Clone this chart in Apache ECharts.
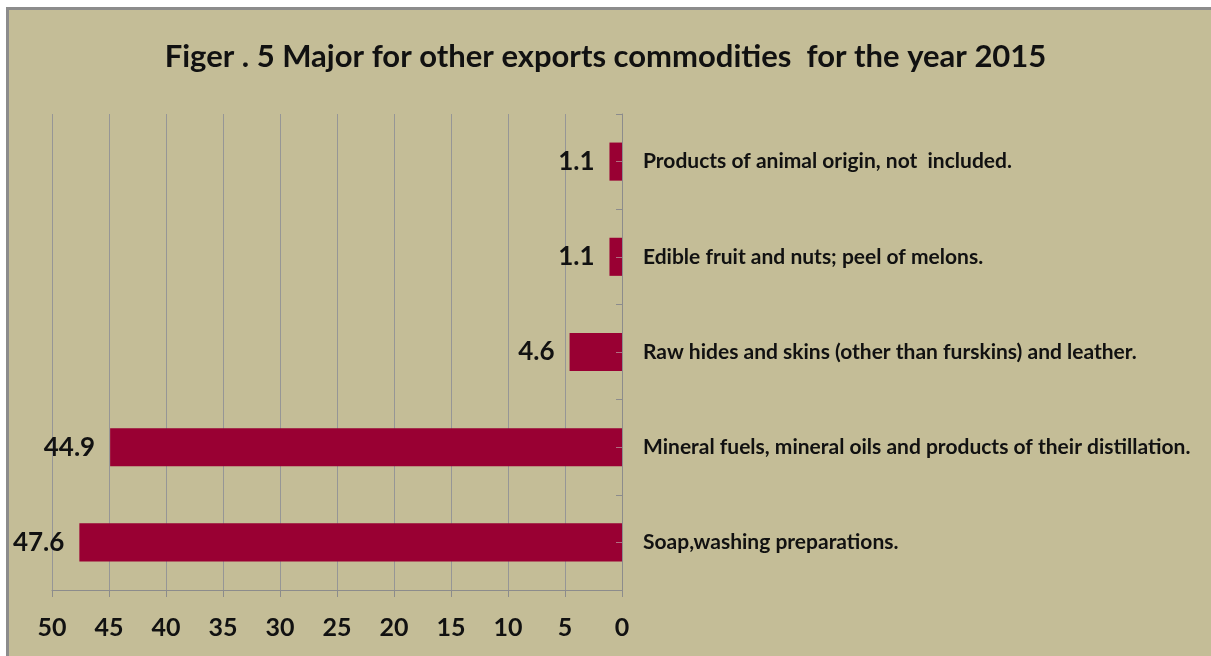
<!DOCTYPE html>
<html>
<head>
<meta charset="utf-8">
<script src="https://cdn.jsdelivr.net/npm/echarts@6/dist/echarts.min.js"></script>
<style>
html,body{margin:0;padding:0;background:#fff;}
#chart{width:1211px;height:656px;}
</style>
</head>
<body>
<div id="chart"></div>
<script>
const titleText = "Figer . 5 Major for other exports commodities  for the year 2015";
// bottom to top
const categories = [
  "Soap,washing preparations.",
  "Mineral fuels, mineral oils and products of their distillation.",
  "Raw hides and skins (other than furskins) and leather.",
  "Edible fruit and nuts; peel of melons.",
  "Products of animal origin, not  included."
];
const values = [47.6, 44.9, 4.6, 1.1, 1.1];
const xTicks = { min: 0, max: 50, interval: 5 };

const chart = echarts.init(document.getElementById('chart'));
const font = 'Lato';
chart.setOption({
  backgroundColor: '#ffffff',
  animation: false,
  graphic: [{
    type: 'rect',
    z: -10,
    shape: { x: 7.5, y: 8.5, width: 1220, height: 660 },
    style: { fill: '#C4BD97', stroke: '#8c8c8c', lineWidth: 3 }
  }],
  title: {
    text: titleText,
    left: 'center',
    top: 36,
    textStyle: { fontFamily: font, fontWeight: 'bold', fontSize: 31, color: '#111' }
  },
  grid: { left: 52, right: 589, top: 114, bottom: 66 },
  xAxis: {
    type: 'value',
    inverse: true,
    min: xTicks.min, max: xTicks.max, interval: xTicks.interval,
    axisLine: { show: true, lineStyle: { color: '#8c8c8c', width: 1 } },
    axisTick: { show: true, length: 7, lineStyle: { color: '#8c8c8c' } },
    splitLine: { show: true, lineStyle: { color: '#969696', width: 1 } },
    axisLabel: { fontFamily: font, fontWeight: 'bold', fontSize: 25, color: '#111', margin: 25 }
  },
  yAxis: [{
    type: 'category',
    data: categories,
    position: 'right',
    axisLine: { show: true, onZero: false, lineStyle: { color: '#8c8c8c' } },
    axisTick: { show: true, inside: true, length: 6, lineStyle: { color: '#8c8c8c' } },
    axisLabel: { fontFamily: font, fontWeight: 'bold', fontSize: 21, color: '#111', margin: 21, align: 'left' }
  }, {
    type: 'category',
    data: categories,
    position: 'right',
    z: 10,
    axisLine: { show: false, onZero: false },
    axisTick: { show: true, inside: true, length: 6, alignWithLabel: true, lineStyle: { color: '#b07080' } },
    axisLabel: { show: false }
  }],
  series: [{
    type: 'bar',
    data: values,
    yAxisIndex: 0,
    barWidth: '40%',
    itemStyle: { color: '#990033' },
    label: {
      show: true,
      position: 'left',
      distance: 15,
      fontFamily: font, fontWeight: 'bold', fontSize: 26, color: '#111'
    }
  }]
});
</script>
</body>
</html>
